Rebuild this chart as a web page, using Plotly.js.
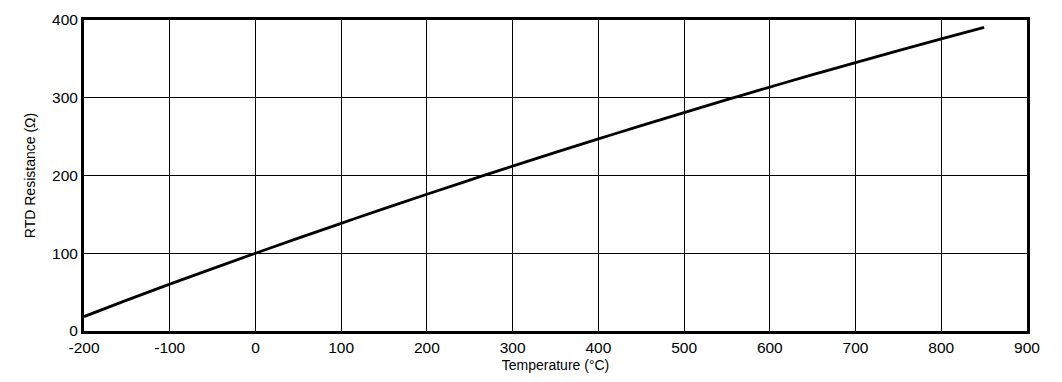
<!DOCTYPE html>
<html>
<head>
<meta charset="utf-8">
<script src="https://cdn.plot.ly/plotly-3.0.1.min.js"></script>
<style>html,body{margin:0;padding:0;background:#fff;}#chart{width:1062px;height:382px;}</style>
</head>
<body>
<div id="chart"></div>
<script>
const temperature = [-200, -150, -100, -50, 0, 50, 100, 150, 200, 250, 300, 350, 400, 450, 500, 550, 600, 650, 700, 750, 800, 850];
const resistance = [18.52, 39.72, 60.26, 80.31, 100.0, 119.40, 138.51, 157.33, 175.86, 194.10, 212.05, 229.72, 247.09, 264.18, 280.98, 297.49, 313.71, 329.64, 345.28, 360.64, 375.70, 390.48];
const xTicks = [-200, -100, 0, 100, 200, 300, 400, 500, 600, 700, 800, 900];
const yTicks = [0, 100, 200, 300, 400];

const font = {family: 'Liberation Sans, Arial, sans-serif', size: 14, color: '#000'};
const tickFont = {family: 'Liberation Sans, Arial, sans-serif', size: 15.5, color: '#000'};

Plotly.newPlot('chart', [{
  x: temperature, y: resistance, type: 'scatter', mode: 'lines',
  line: {color: '#000', width: 2.8, shape: 'spline'}, hoverinfo: 'skip'
}], {
  width: 1062, height: 382,
  margin: {l: 84, r: 35, t: 20, b: 51},
  paper_bgcolor: '#fff', plot_bgcolor: '#fff',
  showlegend: false,
  font: font,
  xaxis: {
    range: [-200, 900], tickvals: xTicks, ticktext: xTicks.map(String),
    showgrid: true, gridcolor: '#000', gridwidth: 1,
    showline: true, linecolor: '#000', linewidth: 3, mirror: true,
    zeroline: false, ticks: '', ticklen: 0,
    tickfont: tickFont,
    title: {text: 'Temperature (°C)', font: font, standoff: 6}
  },
  yaxis: {
    range: [0, 400], tickvals: yTicks, ticktext: yTicks.map(String),
    showgrid: true, gridcolor: '#000', gridwidth: 1,
    showline: true, linecolor: '#000', linewidth: 3, mirror: true,
    zeroline: false, ticks: '', ticklen: 0,
    tickfont: tickFont,
    title: {text: 'RTD Resistance (Ω)', font: font, standoff: 14}
  }
}, {staticPlot: true});
</script>
</body>
</html>
